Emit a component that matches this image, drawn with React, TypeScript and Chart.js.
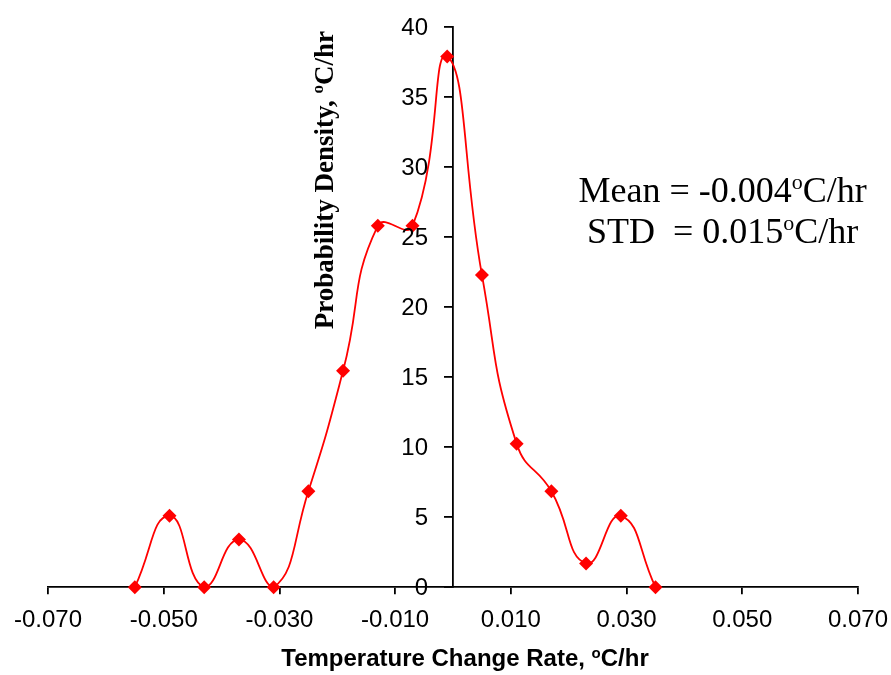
import { useEffect, useRef } from "react";
import { Chart, registerables } from "chart.js";

Chart.register(...registerables);

// Bin centres of the rate histogram and the density measured in each bin
const rates = [
  -0.055, -0.049, -0.043, -0.037, -0.031, -0.025, -0.019, -0.013, -0.007,
  -0.001, 0.005, 0.011, 0.017, 0.023, 0.029, 0.035,
];
const density = [
  0, 5.1, 0, 3.4, 0, 6.85, 15.45, 25.8, 25.8, 37.9, 22.3, 10.25, 6.85, 1.7,
  5.1, 0,
];

const xTickValues = [-0.07, -0.05, -0.03, -0.01, 0.01, 0.03, 0.05, 0.07];
const yTickValues = [0, 5, 10, 15, 20, 25, 30, 35, 40];

type Seg = { text: string; sup?: boolean };

const xTitle: Seg[] = [
  { text: "Temperature Change Rate, " },
  { text: "o", sup: true },
  { text: "C/hr" },
];
const yTitle: Seg[] = [
  { text: "Probability Density, " },
  { text: "o", sup: true },
  { text: "C/hr" },
];
const statLines: Seg[][] = [
  [{ text: "Mean = -0.004" }, { text: "o", sup: true }, { text: "C/hr" }],
  [{ text: "STD  = 0.015" }, { text: "o", sup: true }, { text: "C/hr" }],
];

const SANS = '"Liberation Sans", Arial, sans-serif';
const SERIF = '"Liberation Serif", "Times New Roman", serif';

function drawRich(
  ctx: CanvasRenderingContext2D,
  segs: Seg[],
  x: number,
  y: number,
  size: number,
  family: string,
  weight: string
) {
  const base = `${weight} ${size}px ${family}`;
  const small = `${weight} ${Math.round(size * 0.62)}px ${family}`;
  const widths = segs.map((s) => {
    ctx.font = s.sup ? small : base;
    return ctx.measureText(s.text).width;
  });
  const total = widths.reduce((a, b) => a + b, 0);
  let cx = x - total / 2;
  ctx.textAlign = "left";
  ctx.textBaseline = "alphabetic";
  segs.forEach((s, i) => {
    ctx.font = s.sup ? small : base;
    ctx.fillText(s.text, cx, s.sup ? y - size * 0.36 : y);
    cx += widths[i];
  });
}

const labelsPlugin = {
  id: "richLabels",
  afterDraw(chart: Chart) {
    const ctx = chart.ctx;
    const xs = chart.scales.x;
    const ys = chart.scales.y;
    const { chartArea } = chart;
    const axisX = xs.getPixelForValue(0);
    ctx.save();
    ctx.fillStyle = "#000";

    // y tick labels, to the left of the centred y axis
    ctx.font = `24px ${SANS}`;
    ctx.textAlign = "right";
    ctx.textBaseline = "middle";
    yTickValues.forEach((v) => {
      ctx.fillText(String(v), axisX - 25, ys.getPixelForValue(v) + 1);
    });

    // x axis title under the tick labels
    drawRich(ctx, xTitle, axisX + 12, chartArea.bottom + 79, 24, SANS, "bold");

    // y axis title, rotated, beside the y axis
    ctx.save();
    ctx.translate(axisX - 120, ys.getPixelForValue(20) - 127);
    ctx.rotate(-Math.PI / 2);
    drawRich(ctx, yTitle, 0, 0, 27, SERIF, "bold");
    ctx.restore();

    // summary statistics
    const sx = xs.getPixelForValue(0.0466);
    drawRich(ctx, statLines[0], sx, ys.getPixelForValue(27.5), 36, SERIF, "normal");
    drawRich(ctx, statLines[1], sx, ys.getPixelForValue(24.57), 36, SERIF, "normal");
    ctx.restore();
  },
};

export default function App() {
  const ref = useRef<HTMLCanvasElement | null>(null);

  useEffect(() => {
    if (!ref.current) return;
    const chart = new Chart(ref.current, {
      type: "scatter",
      data: {
        datasets: [
          {
            data: rates.map((r, i) => ({ x: r, y: density[i] })),
            showLine: true,
            borderColor: "#FF0000",
            backgroundColor: "#FF0000",
            borderWidth: 1.8,
            tension: 0.5,
            pointStyle: "rectRot",
            pointRadius: 7,
            pointBorderWidth: 0,
            clip: false,
          },
        ],
      },
      options: {
        animation: false,
        responsive: false,
        maintainAspectRatio: false,
        layout: { padding: { left: 48, right: 33, top: 27, bottom: 28 } },
        plugins: { legend: { display: false }, tooltip: { enabled: false } },
        scales: {
          x: {
            type: "linear",
            position: "bottom",
            min: -0.07,
            max: 0.07,
            afterBuildTicks: (s: any) => {
              s.ticks = xTickValues.map((v) => ({ value: v }));
            },
            afterFit: (s: any) => {
              s.paddingLeft = 0;
              s.paddingRight = 0;
            },
            ticks: {
              callback: (v: any) => Number(v).toFixed(3),
              font: { family: SANS, size: 24 },
              color: "#000",
              padding: 12,
              maxRotation: 0,
              autoSkip: false,
            },
            grid: {
              display: true,
              drawOnChartArea: false,
              drawTicks: true,
              tickLength: 7,
              color: "#000",
              lineWidth: 1.8,
            },
            border: { display: true, color: "#000", width: 1.8 },
          },
          y: {
            type: "linear",
            position: { x: 0 } as any,
            min: 0,
            max: 40,
            afterBuildTicks: (s: any) => {
              s.ticks = yTickValues.map((v) => ({ value: v }));
            },
            ticks: { display: false },
            grid: {
              display: true,
              drawOnChartArea: false,
              drawTicks: true,
              tickLength: 8,
              color: "#000",
              lineWidth: 1.8,
            },
            border: { display: true, color: "#000", width: 1.8 },
          },
        },
      },
      plugins: [labelsPlugin],
    });
    return () => chart.destroy();
  }, []);

  return (
    <div style={{ position: "absolute", left: 0, top: 0, width: 891, height: 675, background: "#fff" }}>
      <canvas ref={ref} width={891} height={675} style={{ display: "block" }} />
    </div>
  );
}
